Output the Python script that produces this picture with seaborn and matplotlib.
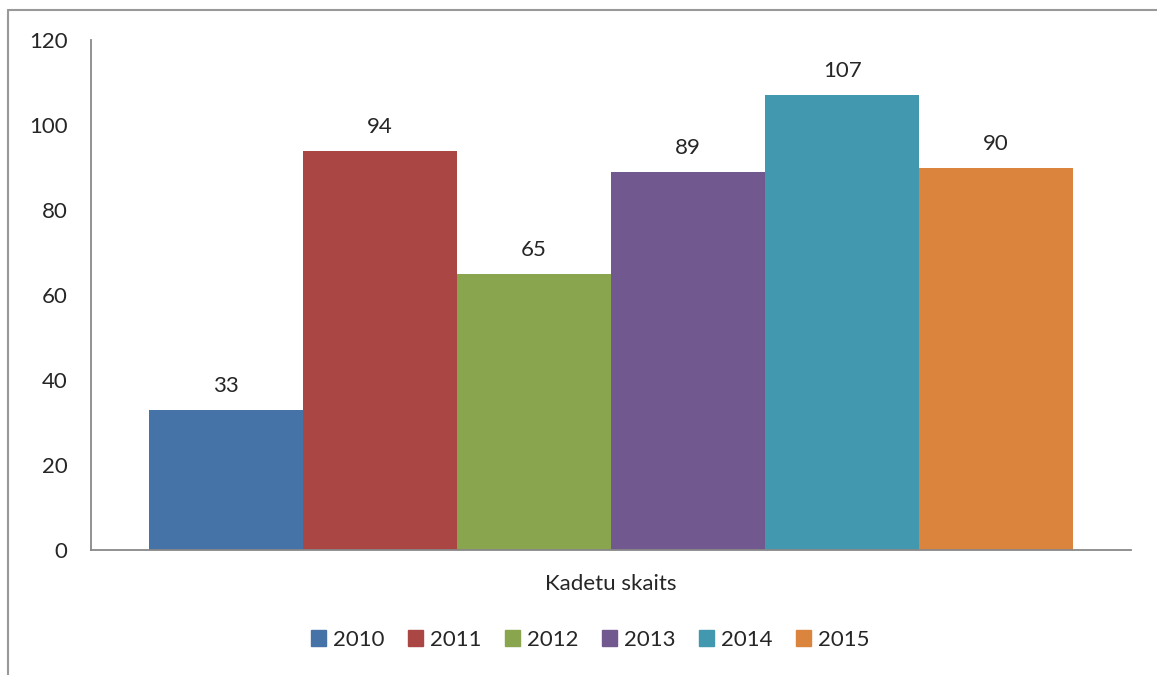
import matplotlib
matplotlib.use("Agg")
import matplotlib.pyplot as plt
import seaborn as sns
import pandas as pd
from matplotlib.lines import Line2D

# data
category = ["Kadetu skaits"]
years = ["2010", "2011", "2012", "2013", "2014", "2015"]
values = [33, 94, 65, 89, 107, 90]
colors = ["#4572A7", "#AA4643", "#89A54E", "#71588F", "#4198AF", "#DB843D"]

df = pd.DataFrame({"cat": category * len(years), "year": years, "value": values})

sns.set_style("white")
plt.rcParams['font.family'] = ['Lato', 'DejaVu Sans']

fig = plt.figure(figsize=(11.57, 6.75), dpi=100)
ax = fig.add_axes([0.0787, 0.1852, 0.8988, 0.7555])

sns.barplot(data=df, x="cat", y="value", hue="year", palette=colors,
            width=0.889, gap=0, saturation=1, linewidth=0, ax=ax, legend=False)

for c in ax.containers:
    ax.bar_label(c, padding=10, fontsize=16)

ax.set_ylim(0, 120)
ax.set_yticks(range(0, 121, 20))
ax.set_xlim(-0.5, 0.5)
ax.set_xlabel("")
ax.set_ylabel("")
ax.tick_params(axis="y", labelsize=16, length=0, pad=17)
ax.tick_params(axis="x", labelsize=16, length=0, pad=17)

for s in ["top", "right"]:
    ax.spines[s].set_visible(False)
for s in ["left", "bottom"]:
    ax.spines[s].set_color("#888888")
    ax.spines[s].set_linewidth(1.3)

handles = [plt.Rectangle((0, 0), 1, 1, color=c) for c in colors]
fig.legend(handles, years, loc="center", bbox_to_anchor=(0.51, 0.052), ncol=6,
           frameon=False, fontsize=16, handlelength=0.7, handleheight=0.7,
           handletextpad=0.3, columnspacing=1.05)

# chart border (left and top visible)
fig.add_artist(Line2D([8 / 1157, 8 / 1157], [0, 1 - 10 / 675], color="#999999", lw=1.5))
fig.add_artist(Line2D([8 / 1157, 1], [1 - 10 / 675, 1 - 10 / 675], color="#999999", lw=1.5))

fig.savefig("out.png", dpi=100)
